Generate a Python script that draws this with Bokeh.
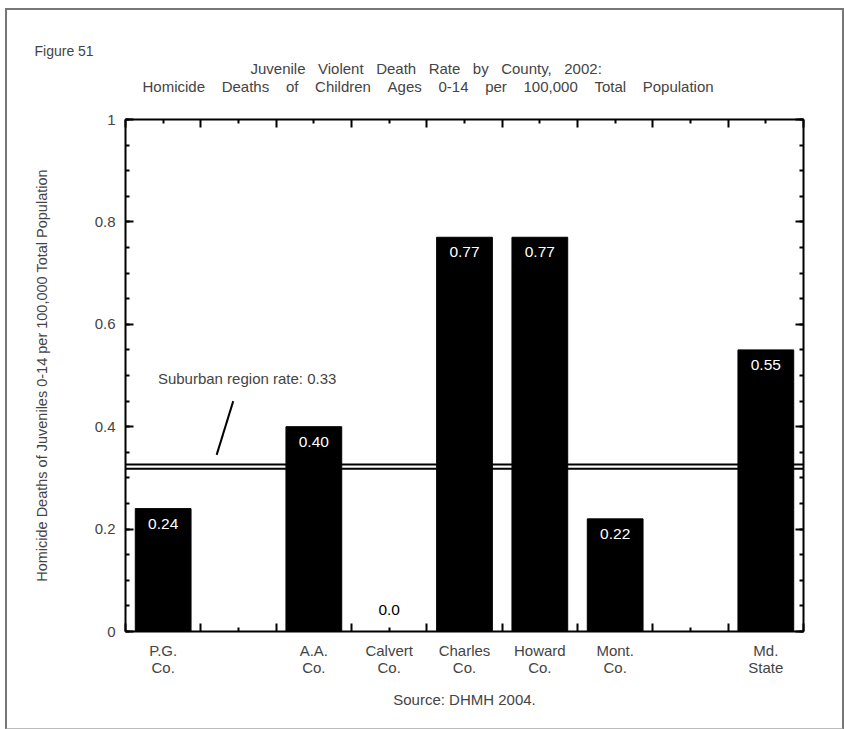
from bokeh.embed import file_html
from bokeh.models import (ColumnDataSource, FixedTicker, InlineStyleSheet, Label,
                          LabelSet, LinearAxis, Range1d, Span, Title)
from bokeh.core.properties import value
from bokeh.plotting import figure
from bokeh.resources import INLINE

# ---- data -------------------------------------------------------------
county_line1 = ["P.G.", "A.A.", "Calvert", "Charles", "Howard", "Mont.", "Md."]
county_line2 = ["Co.", "Co.", "Co.", "Co.", "Co.", "Co.", "State"]
county_slot = [0, 2, 3, 4, 5, 6, 8]          # column on the 9-column axis
death_rate = [0.24, 0.40, 0.0, 0.77, 0.77, 0.22, 0.55]
rate_text = ["0.24", "0.40", "0.0", "0.77", "0.77", "0.22", "0.55"]
suburban_rate = 0.33
y_ticks = [0, 0.2, 0.4, 0.6, 0.8, 1]
y_tick_text = ["0", "0.2", "0.4", "0.6", "0.8", "1"]
n_slots = 9

FONT = "Liberation Sans"
W, H = 844, 729
LEFT, RIGHT, TOP, BOTTOM = 125, 41, 119, 98

p = figure(width=W, height=H, output_backend="svg", toolbar_location=None,
           x_range=Range1d(0, n_slots), y_range=Range1d(0, 1),
           x_axis_type=None, y_axis_type=None,
           min_border_left=LEFT, min_border_right=RIGHT,
           min_border_top=TOP, min_border_bottom=BOTTOM)
p.outline_line_color = None
p.background_fill_color = "white"
p.border_fill_color = "white"
# thin grey page frame around the whole figure
p.stylesheets = [InlineStyleSheet(css="""
:host { position: relative; }
:host::after { content: ""; position: absolute; left: 5px; top: 8px;
  width: 835px; height: 718px; border: 2px solid #777;
  border-bottom-color: #bbb; pointer-events: none; }
""")]

# ---- axes: ticks pointing inward on all four sides ---------------------
y_minor = [round(0.05 * i, 2) for i in range(21)]
x_major = list(range(n_slots + 1))
x_minor = [i + 0.5 for i in range(n_slots)]


def style_axis(ax):
    ax.axis_line_width = 2
    ax.axis_line_color = "black"
    ax.major_tick_line_width = 2
    ax.minor_tick_line_width = 2
    ax.major_tick_in = 8
    ax.major_tick_out = 0
    ax.minor_tick_in = 4
    ax.minor_tick_out = 0


left_ax = LinearAxis(ticker=FixedTicker(ticks=y_ticks, minor_ticks=y_minor))
style_axis(left_ax)
left_ax.major_label_overrides = {t: s for t, s in zip(y_ticks, y_tick_text)}
left_ax.major_label_text_font = FONT
left_ax.major_label_text_font_size = "15px"
left_ax.major_label_standoff = 10
left_ax.axis_label = "Homicide Deaths of Juveniles 0-14 per 100,000 Total Population"
left_ax.axis_label_text_font = FONT
left_ax.axis_label_text_font_size = "14.5px"
left_ax.axis_label_text_font_style = "normal"
left_ax.axis_label_standoff = 42
p.add_layout(left_ax, "left")

right_ax = LinearAxis(ticker=FixedTicker(ticks=y_ticks, minor_ticks=y_minor))
style_axis(right_ax)
right_ax.major_label_overrides = {t: "" for t in y_ticks}
p.add_layout(right_ax, "right")

top_ax = LinearAxis(ticker=FixedTicker(ticks=x_major, minor_ticks=x_minor))
style_axis(top_ax)
top_ax.major_label_overrides = {t: "" for t in x_major}
p.add_layout(top_ax, "above")

bottom_ax = LinearAxis(ticker=FixedTicker(ticks=x_major, minor_ticks=x_minor))
style_axis(bottom_ax)
bottom_ax.major_label_overrides = {t: "" for t in x_major}
p.add_layout(bottom_ax, "below")

# county names, two lines each, centred under their bars
centers = [s + 0.5 for s in county_slot]
name_ax = LinearAxis(ticker=FixedTicker(ticks=centers, minor_ticks=[]))
name_ax.axis_line_color = None
name_ax.major_tick_line_color = None
name_ax.minor_tick_line_color = None
name_ax.major_label_overrides = {c: a + "\n" + b for c, a, b in
                                 zip(centers, county_line1, county_line2)}
name_ax.major_label_text_font = FONT
name_ax.major_label_text_font_size = "15px"
name_ax.major_label_text_line_height = 1.05
name_ax.major_label_standoff = 4
p.add_layout(name_ax, "below")

# ---- bars ----------------------------------------------------------------
src = ColumnDataSource(dict(
    x=centers, rate=death_rate, label=rate_text,
    color=["white" if r > 0 else "black" for r in death_rate],
    dy=[-15 if r > 0 else 22 for r in death_rate],
))
p.vbar(x="x", top="rate", bottom=0, width=0.74, source=src,
       fill_color="black", line_color="black")

p.add_layout(LabelSet(x="x", y="rate", text="label", source=src,
                      y_offset="dy", text_color="color",
                      text_align="center", text_baseline="middle",
                      text_font=value(FONT), text_font_size="15.5px"))

# ---- suburban region reference (double rule) -----------------------------
for loc in (suburban_rate - 0.004, suburban_rate - 0.012):
    p.add_layout(Span(location=loc, dimension="width",
                      line_color="black", line_width=2))

p.add_layout(Label(x=0.43, y=0.494, text="Suburban region rate: 0.33",
                   text_font=FONT, text_font_size="15px",
                   text_baseline="middle"))
p.segment(x0=[1.43], y0=[0.45], x1=[1.21], y1=[0.345],
          line_color="black", line_width=2)

# ---- titles and notes ----------------------------------------------------
title1 = ("\u00a0" * 3).join("Juvenile Violent Death Rate by County, 2002:".split())
title2 = ("\u00a0" * 4).join(
    "Homicide Deaths of Children Ages 0-14 per 100,000 Total Population".split())

# blank spacer between the top axis and the title block
p.add_layout(Title(text="\u00a0", text_font_size="1px", standoff=21), "above")

# stacked outward from the plot: second title line, first line, figure number
for text, size, offset, standoff in (
        (title2, "15px", 17, 1),
        (title1, "15px", 125, -3),
        ("Figure 51", "14px", -91, 1)):
    p.add_layout(Title(text=text, text_font=FONT, text_font_size=size,
                       text_font_style="normal", align="left", offset=offset,
                       standoff=standoff), "above")

p.add_layout(Title(text="Source: DHMH 2004.", text_font=FONT,
                   text_font_size="15px", text_font_style="normal",
                   align="center", standoff=18), "below")

open("out.html", "w").write(file_html(p, INLINE))
